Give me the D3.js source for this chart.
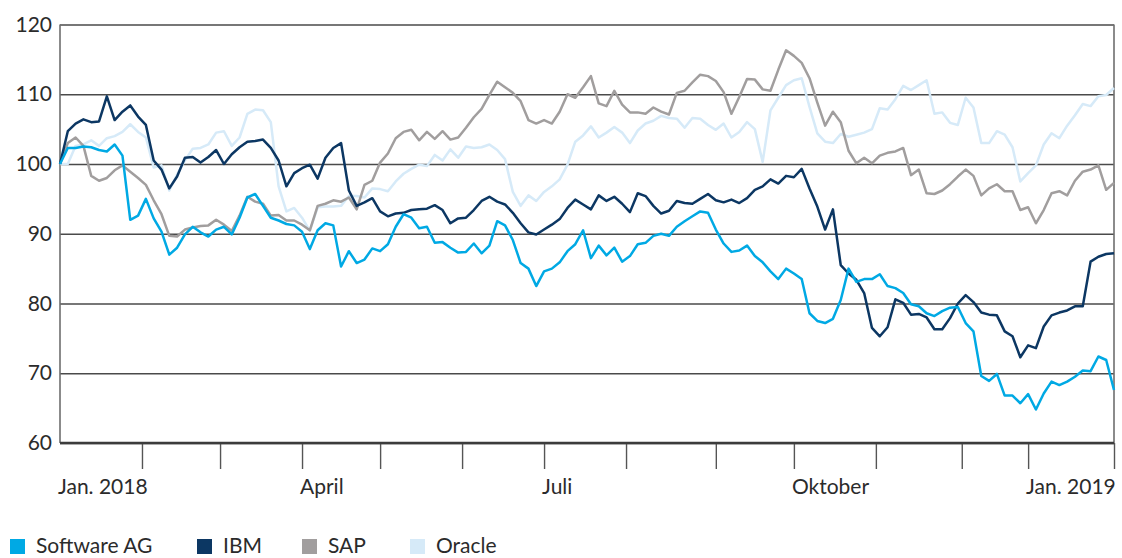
<!DOCTYPE html>
<html><head><meta charset="utf-8">
<script src="https://cdn.jsdelivr.net/npm/d3@7"></script>
<style>
body{margin:0;background:#fff;}
text{font-family:Lato,"Noto Sans",sans-serif;fill:#2b2b2b;}
</style>
</head><body>
<svg id="chart" width="1122" height="558"></svg>
<script>
// Index (100 = start), sampled every 2 trading days, Jan. 2018 – Jan. 2019
const seriesNames = ["Software AG", "IBM", "SAP", "Oracle"];
const seriesColors = ["#00a9e4", "#0c3763", "#a19e9e", "#d6eaf8"];
const dayStep = 2;

const softwareAG = [100,102.3,102.3,102.5,102.4,102,101.8,102.8,101.2,92,92.6,95,92.2,90.3,87,88,89.9,91,90.2,89.6,
90.6,91,89.9,92.3,95.2,95.7,94,92.3,91.9,91.4,91.2,90.3,87.8,90.5,91.5,91.2,85.3,87.5,85.8,86.3,
87.9,87.5,88.5,91,92.8,92.3,90.8,91,88.7,88.8,88,87.3,87.4,88.6,87.2,88.3,91.8,91.2,89.1,85.8,
85,82.5,84.6,85,85.9,87.5,88.5,90.5,86.5,88.3,86.9,88,86,86.8,88.5,88.7,89.7,90,89.7,91,
91.8,92.5,93.2,93,90.6,88.6,87.4,87.6,88.3,86.8,85.9,84.6,83.5,85,84.3,83.5,78.6,77.5,77.2,77.8,
80.5,85,83.1,83.5,83.5,84.2,82.5,82.2,81.5,79.9,79.6,78.6,78.2,78.9,79.4,79.5,77.2,76,69.6,68.9,
69.9,66.8,66.8,65.7,67,64.8,67.1,68.8,68.3,68.8,69.5,70.4,70.3,72.4,71.9,67.6];

const ibm = [100,104.7,105.8,106.4,106,106.1,109.7,106.3,107.5,108.4,106.8,105.6,100.5,99.2,96.5,98.2,100.9,101,100.2,101,
102,100,101.4,102.4,103.2,103.3,103.5,102.3,100.5,96.8,98.7,99.4,99.9,97.9,100.9,102.3,103,96.2,94,94.5,
95.1,93.2,92.5,92.9,93,93.4,93.5,93.6,94.1,93.4,91.5,92.2,92.3,93.4,94.7,95.3,94.6,94.2,93,91.5,
90.2,89.9,90.6,91.3,92.1,93.7,94.9,94.2,93.5,95.5,94.7,95.3,94.3,93.1,95.8,95.4,94,92.9,93.3,94.7,
94.4,94.3,95,95.7,94.8,94.5,94.9,94.4,95.1,96.3,96.8,97.8,97.2,98.3,98.1,99.3,96.5,93.9,90.6,93.5,
85.5,84.3,83.4,81.5,76.5,75.3,76.6,80.6,80.1,78.4,78.5,78,76.3,76.3,77.9,80,81.2,80.2,78.7,78.4,
78.3,76,75.3,72.3,74,73.6,76.7,78.3,78.7,79,79.6,79.6,86,86.7,87.1,87.2];

const sap = [100,103,103.8,102.6,98.3,97.6,98,99.1,99.8,98.9,98,97,94.8,92.8,89.7,89.6,90.6,90.9,91.1,91.2,
92,91.3,90.4,92.6,95.3,94.6,94.3,92.6,92.7,91.9,91.9,91.3,90.5,94,94.3,94.8,94.6,95.2,93.5,97,
97.6,100.2,101.5,103.7,104.6,104.9,103.4,104.6,103.6,104.7,103.5,103.8,105.2,106.7,107.9,109.9,111.8,111,110.2,109,
106.3,105.8,106.3,105.8,107.5,110,109.5,111,112.6,108.7,108.3,110.5,108.5,107.4,107.4,107.2,108.1,107.5,107.1,110.2,
110.5,111.7,112.8,112.6,111.9,110.3,107.2,109.6,112.2,112.1,110.7,110.5,113.5,116.3,115.5,114.5,112.3,108.8,105.5,107.5,
106,101.9,100.1,100.9,100.1,101.2,101.6,101.8,102.3,98.4,99.2,95.8,95.7,96.2,97.1,98.2,99.2,98.3,95.5,96.5,
97.1,96.1,96.1,93.4,93.8,91.5,93.4,95.8,96.1,95.5,97.6,98.9,99.2,99.8,96.3,97.3];

const oracle = [100,100,102.6,102.8,103.4,102.6,103.7,104,104.6,105.7,104.6,103.8,99.5,99.8,96.2,98.5,100.5,102.2,102.3,102.8,
104.5,104.7,102.6,103.8,107.2,107.8,107.7,106,96.8,93.2,93.7,92.3,90.4,93.8,93.9,93.9,94,95.4,95.4,95.2,
96.5,96.4,96.1,97.5,98.6,99.3,99.9,99.7,101.3,100.5,102.1,100.9,102.5,102.3,102.4,102.8,102,100.7,96,94,
95.5,94.7,96,96.8,97.8,99.9,103.2,104.1,105.4,103.8,104.5,105.3,104.5,103,104.8,105.8,106.2,106.9,106.6,106.5,
105.2,106.6,106.5,105.6,104.9,105.8,103.8,104.6,106,105,100.3,107.7,109.5,111.3,112,112.3,108.2,104.4,103.2,103,
104.3,103.9,104.2,104.5,105,108,107.8,109.3,111.2,110.6,111.3,112,107.2,107.4,105.9,105.6,109.5,108.1,103,103,
104.7,104.2,102.4,97.5,98.7,99.8,102.8,104.4,103.7,105.5,107,108.6,108.3,109.7,109.9,110.9];

const yTickValues = [60, 70, 80, 90, 100, 110, 120];
const monthStartDays = [0, 21, 41, 62, 82, 103, 124, 145, 168, 188, 209, 231, 248, 270];
const labelDays = [0, 62, 124, 188, 248];
const labelTexts = ["Jan. 2018", "April", "Juli", "Oktober", "Jan. 2019"];

const seriesData = [softwareAG, ibm, sap, oracle];
const drawOrder = [3, 2, 1, 0];

const svg = d3.select("#chart");
const plotLeft = 60, plotRight = 1114, plotTop = 24.5, plotBottom = 443;
const lastDay = (softwareAG.length - 1) * dayStep;
const x = d3.scaleLinear().domain([0, lastDay]).range([plotLeft, plotRight]);
const y = d3.scaleLinear().domain([60, 120]).range([plotBottom, plotTop]);

svg.append("rect").attr("width", 1122).attr("height", 558).attr("fill", "#fff");

// horizontal grid + y labels
const yAxis = svg.append("g").attr("transform", `translate(${plotLeft},0)`)
  .call(d3.axisLeft(y).tickValues(yTickValues).tickSize(-(plotRight - plotLeft)).tickPadding(8).tickFormat(d3.format("d")));
yAxis.select(".domain").remove();
yAxis.selectAll(".tick line").attr("stroke", "#4a4a4a").attr("stroke-width", 1.4);
yAxis.selectAll(".tick text").style("font-size", "21px").attr("fill", "#2b2b2b").attr("font-family", "Lato");

// vertical frame lines
svg.append("line").attr("x1", plotLeft).attr("x2", plotLeft).attr("y1", plotTop).attr("y2", plotBottom)
  .attr("stroke", "#6e6e6e").attr("stroke-width", 1.6);
svg.append("line").attr("x1", plotRight).attr("x2", plotRight).attr("y1", plotTop).attr("y2", plotBottom)
  .attr("stroke", "#6e6e6e").attr("stroke-width", 1.6);

// series lines
const line = d3.line().x((d, i) => x(i * dayStep)).y(d => y(d));
drawOrder.forEach(si => {
  svg.append("path").datum(seriesData[si])
    .attr("fill", "none").attr("stroke", seriesColors[si])
    .attr("stroke-width", 2.5).attr("stroke-linejoin", "round")
    .attr("d", line);
});

// bottom axis
const xAxis = svg.append("g").attr("transform", `translate(0,${plotBottom})`)
  .call(d3.axisBottom(x).tickValues(monthStartDays.slice(1)).tickSize(26).tickFormat(""));
xAxis.select(".domain").remove();
xAxis.selectAll(".tick line").attr("stroke", "#555").attr("stroke-width", 1.4);
svg.append("line").attr("x1", plotLeft).attr("x2", plotRight).attr("y1", plotBottom).attr("y2", plotBottom)
  .attr("stroke", "#3c3c3c").attr("stroke-width", 2.4);

svg.append("g").selectAll("text").data(labelDays).join("text")
  .attr("x", d => x(d) - 2).attr("y", 494)
  .attr("text-anchor", "start").style("font-size", "21px")
  .text((d, i) => labelTexts[i]);

// legend
const legendX = [10, 197, 302, 410];
const lg = svg.append("g");
seriesNames.forEach((name, i) => {
  lg.append("rect").attr("x", legendX[i]).attr("y", 539).attr("width", 15).attr("height", 15)
    .attr("fill", seriesColors[i]);
  lg.append("text").attr("x", legendX[i] + 26).attr("y", 553).style("font-size", "21px").text(name);
});
</script>
</body></html>
